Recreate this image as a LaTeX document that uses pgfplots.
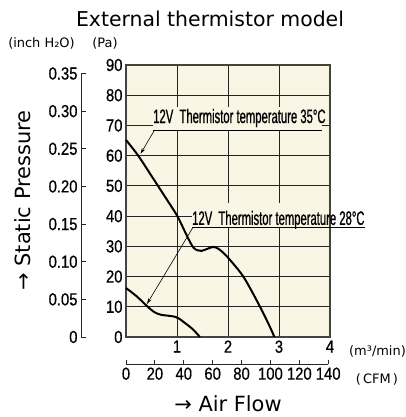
\documentclass[border=0pt]{standalone}
\usepackage{fontspec}
\setmainfont{DejaVu Sans}
\newfontfamily\tickfont[FakeStretch=0.85,FakeBold=0.6]{Liberation Sans}
\newfontfamily\annofont[FakeStretch=0.58,FakeBold=0.8]{Liberation Sans}
\usepackage{pgfplots}
\pgfplotsset{compat=1.18}
\usetikzlibrary{arrows.meta}
\definecolor{bg}{RGB}{250,246,230}
\definecolor{gridc}{RGB}{35,35,35}
\definecolor{borderc}{RGB}{70,66,60}
\begin{document}
\begin{tikzpicture}[x=1bp,y=1bp]
\useasboundingbox (0,0) rectangle (406,417);
% title and outer labels
\node[anchor=base, inner sep=0, font=\fontsize{20.5}{20.5}\selectfont] at (210,390) {External thermistor model};
\node[inner sep=0, font=\fontsize{13}{13}\selectfont] at (41.5,374) {(inch H₂O)};
\node[inner sep=0, font=\fontsize{13}{13}\selectfont] at (105,374) {(Pa)};
\node[inner sep=0, font=\fontsize{13}{13}\selectfont] at (377.5,66) {(m³/min)};
\node[inner sep=0, font=\fontsize{13}{13}\selectfont] at (377,38) {(\,CFM\,)};
\node[anchor=base, inner sep=0, font=\fontsize{21}{21}\selectfont] at (228,5.3) {→ Air Flow};
\node[rotate=90, inner sep=0, font=\fontsize{21}{21}\selectfont] at (22.5,216.5) {→ Static Pressure};

% main axis
\begin{axis}[at={(126bp,80bp)}, anchor=south west, scale only axis,
  width=204bp, height=272bp,
  xmin=0, xmax=4, ymin=0, ymax=90,
  xtick={1,2,3,4}, ytick={0,10,...,90},
  grid=major, major grid style={gridc, line width=0.9bp},
  major tick length=0pt,
  axis line style={draw=borderc, line width=1.3bp},
  axis background/.style={fill=bg},
  tick label style={font={\fontsize{17.5}{17.5}\selectfont\tickfont}},
  /pgf/number format/assume math mode=true,
  clip=false]
\fill[bg] (axis cs:0.53,68.5) rectangle (axis cs:3.84,76.2);
\fill[bg] (axis cs:1.29,36.2) rectangle (axis cs:3.988,44.4);
\addplot[black, line width=2bp, smooth, tension=0.5] coordinates {
(0,65.2) (0.24,60) (0.5,53.3) (0.75,46.8) (1.0,40.2) (1.14,35.4) (1.22,32.6)
(1.32,29.6) (1.4,28.7) (1.48,28.5) (1.6,29.2) (1.71,29.8) (1.8,29.3) (1.9,28.0)
(2.04,25.5) (2.3,20) (2.56,12.2) (2.79,4.5) (2.91,0)};
\addplot[black, line width=2bp, smooth, tension=0.5] coordinates {
(0,16.2) (0.2,13.6) (0.37,10.9) (0.46,9.5) (0.54,8.4) (0.62,7.7) (0.7,7.3)
(0.85,7.0) (0.96,6.7) (1.04,6.1) (1.12,5.1) (1.22,3.8) (1.32,2.4) (1.45,0)};
% annotations
\node[anchor=base west, inner sep=0, font={\fontsize{19.5}{19.5}\selectfont\annofont}] at (axis cs:0.53,70.8) {12V\ \ Thermistor temperature 35°C};
\draw[line width=0.6bp] (axis cs:0.53,68.5) -- (axis cs:3.84,68.5);
\draw[line width=0.6bp, -{Stealth[length=6bp,width=3.5bp]}] (axis cs:0.56,68.5) -- (axis cs:0.285,60.6);
\node[anchor=base west, inner sep=0, font={\fontsize{19.5}{19.5}\selectfont\annofont}] at (axis cs:1.294,37.1) {12V\ \ Thermistor temperature 28°C};
\draw[line width=0.6bp] (axis cs:1.29,36.2) -- (axis cs:4.69,36.2);
\draw[line width=0.6bp, -{Stealth[length=6bp,width=3.5bp]}] (axis cs:1.31,36.2) -- (axis cs:0.41,10.9);
\end{axis}

% inch H2O axis
\begin{axis}[at={(81bp,80bp)}, anchor=south west, scale only axis,
  width=1bp, height=263.5bp,
  xmin=0, xmax=1, ymin=0, ymax=0.35,
  axis y line=left, hide x axis,
  y axis line style={-, draw=black!85, line width=0.9bp},
  ytick={0,0.05,0.1,0.15,0.2,0.25,0.3,0.35},
  yticklabels={0,0.05,0.10,0.15,0.20,0.25,0.30,0.35},
  tick align=inside, major tick length=5bp,
  major tick style={black!85, line width=0.9bp},
  tick label style={font={\fontsize{17.5}{17.5}\selectfont\tickfont}},
  /pgf/number format/assume math mode=true]
\end{axis}

% CFM axis
\begin{axis}[at={(126bp,53bp)}, anchor=south west, scale only axis,
  width=202.2bp, height=1bp,
  xmin=0, xmax=140, ymin=0, ymax=1,
  axis x line=bottom, hide y axis,
  x axis line style={-, draw=black!85, line width=0.9bp},
  xtick={0,20,...,140},
  tick align=inside, major tick length=4bp,
  major tick style={black!85, line width=0.9bp},
  tick label style={font={\fontsize{17.5}{17.5}\selectfont\tickfont}},
  /pgf/number format/assume math mode=true]
\end{axis}
\end{tikzpicture}
\end{document}
